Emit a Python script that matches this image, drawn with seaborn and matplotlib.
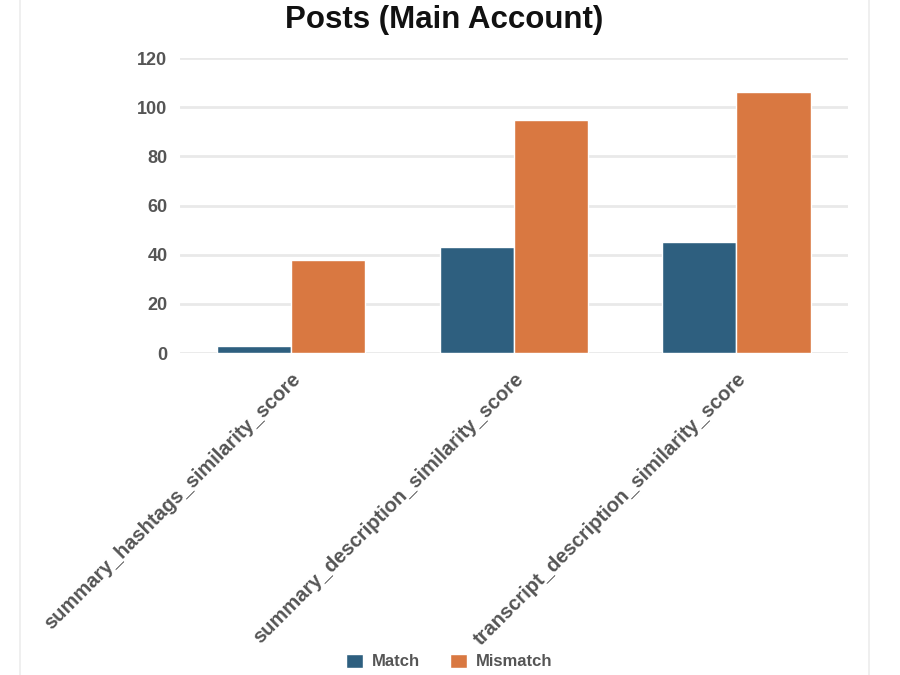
import matplotlib
matplotlib.use("Agg")
import matplotlib.pyplot as plt
import seaborn as sns
import pandas as pd
from matplotlib.lines import Line2D
from matplotlib.patches import Patch

categories = ["summary_hashtags_similarity_score",
              "summary_description_similarity_score",
              "transcript_description_similarity_score"]
match_values = [3, 43, 45]
mismatch_values = [38, 95, 106]
series_names = ["Match", "Mismatch"]
y_ticks = [0, 20, 40, 60, 80, 100, 120]

df = pd.DataFrame({
    "category": categories * 2,
    "count": match_values + mismatch_values,
    "status": [series_names[0]] * len(categories) + [series_names[1]] * len(categories),
})

sns.set_theme(style="white")
plt.rcParams['font.family'] = ['Liberation Sans', 'DejaVu Sans']

fig = plt.figure(figsize=(9, 6.75), dpi=100)
ax = fig.add_axes([0.2, 0.477, 0.742, 0.437])

sns.barplot(data=df, x="category", y="count", hue="status",
            palette=["#2E5F7F", "#D97841"], width=0.665, ax=ax,
            saturation=1, legend=False)

ax.set_ylim(0, 120)
ax.set_yticks(y_ticks)
ax.set_xlim(-0.5, 2.5)
ax.yaxis.grid(True, color="#e9e9e9", linewidth=2)
ax.set_axisbelow(True)
for s in ax.spines.values():
    s.set_visible(False)
ax.set_xlabel("")
ax.set_ylabel("")
ax.tick_params(axis="y", length=0, pad=9, labelsize=13, labelcolor="#555555")
ax.tick_params(axis="x", length=0, pad=12, labelsize=14.5, labelcolor="#555555")
for lbl in ax.get_yticklabels():
    lbl.set_fontweight("bold")
for lbl in ax.get_xticklabels():
    lbl.set_rotation(45)
    lbl.set_ha("right")
    lbl.set_rotation_mode("anchor")
    lbl.set_fontweight("bold")

fig.text(0.494, 1 - 20 / 675, "Posts (Main Account)", ha="center", va="center",
         fontsize=22.5, fontweight="bold", color="#111111")

# legend at the bottom
handles = [Patch(facecolor="#2E5F7F"), Patch(facecolor="#D97841")]
fig.legend(handles, series_names, loc="lower center", bbox_to_anchor=(0.499, -0.004),
           ncol=2, frameon=False, handlelength=1.05, handleheight=0.9,
           handletextpad=0.5, columnspacing=1.8, borderpad=0.0,
           prop={"weight": "bold", "size": 12})
for t in fig.legends[0].get_texts():
    t.set_color("#555555")

# card borders
fig.add_artist(Line2D([20 / 900, 20 / 900], [0, 1], color="#ececec", linewidth=1.2))
fig.add_artist(Line2D([869 / 900, 869 / 900], [0, 1], color="#ececec", linewidth=1.2))

fig.savefig("out.png", dpi=100)
